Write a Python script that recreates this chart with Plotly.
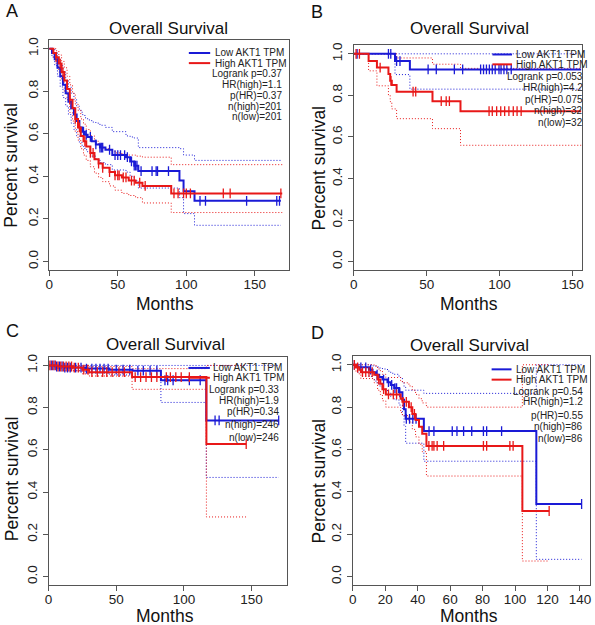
import numpy as np
import plotly.graph_objects as go

# -----------------------------
# DATA  (Kaplan-Meier steps)
# -----------------------------
group_names = ["Low AKT1 TPM", "High AKT1 TPM"]

# Panel A
a_low_t = [0, 2, 4, 6, 8, 10, 12, 14, 16, 18, 20, 22, 24, 26, 28, 31, 34, 37, 41, 46, 56, 59, 62, 65, 95, 98, 106, 169]
a_low_s = [1.0, 0.98, 0.95, 0.91, 0.87, 0.83, 0.79, 0.75, 0.72, 0.69, 0.66, 0.63, 0.61, 0.595, 0.585, 0.565, 0.55, 0.535, 0.525, 0.50, 0.49, 0.47, 0.45, 0.425, 0.38, 0.33, 0.285, 0.285]
a_low_hi = [1.0, 1.0, 0.98, 0.95, 0.92, 0.89, 0.85, 0.82, 0.79, 0.76, 0.73, 0.71, 0.69, 0.675, 0.665, 0.655, 0.65, 0.64, 0.63, 0.61, 0.59, 0.585, 0.58, 0.535, 0.53, 0.50, 0.475, 0.475]
a_low_lo = [1.0, 0.96, 0.92, 0.87, 0.82, 0.77, 0.73, 0.69, 0.65, 0.62, 0.59, 0.56, 0.54, 0.525, 0.515, 0.495, 0.48, 0.465, 0.455, 0.43, 0.42, 0.40, 0.38, 0.345, 0.30, 0.225, 0.17, 0.17]
a_low_cens = [25, 27, 30, 34, 37, 38, 39, 44, 48, 50, 52, 55, 57, 60, 62, 63, 64, 67, 75, 78, 79, 87, 110, 114, 144, 166, 168]

a_high_t = [0, 3, 5, 7, 9, 11, 13, 15, 17, 19, 21, 23, 25, 27, 30, 33, 36, 39, 44, 48, 53, 58, 63, 68, 89, 170]
a_high_s = [1.0, 0.98, 0.96, 0.93, 0.89, 0.85, 0.81, 0.76, 0.72, 0.67, 0.63, 0.59, 0.565, 0.54, 0.51, 0.48, 0.46, 0.44, 0.42, 0.405, 0.395, 0.38, 0.37, 0.355, 0.32, 0.32]
a_high_hi = [1.0, 1.0, 0.99, 0.97, 0.94, 0.91, 0.87, 0.83, 0.79, 0.74, 0.71, 0.67, 0.645, 0.62, 0.59, 0.565, 0.545, 0.53, 0.52, 0.51, 0.505, 0.50, 0.495, 0.49, 0.455, 0.455]
a_high_lo = [1.0, 0.96, 0.93, 0.89, 0.85, 0.80, 0.76, 0.70, 0.66, 0.61, 0.57, 0.53, 0.50, 0.475, 0.445, 0.415, 0.395, 0.375, 0.355, 0.335, 0.32, 0.31, 0.30, 0.275, 0.23, 0.23]
a_high_cens = [5, 8, 10, 15, 19, 22, 26, 30, 32, 36, 39, 44, 48, 50, 51, 54, 56, 60, 62, 66, 70, 91, 94, 98, 100, 103, 127, 132, 169]
a_stats = ["Logrank p=0.37", "HR(high)=1.1", "p(HR)=0.37", "n(high)=201", "n(low)=201"]

# Panel B
b_low_t = [0, 28.3, 38.5, 156]
b_low_s = [1.0, 0.965, 0.925, 0.925]
b_low_hi = [1.0, 1.0, 1.0, 1.0]
b_low_lo = [1.0, 0.90, 0.83, 0.83]
b_low_cens = [2.3, 23.8, 25.4, 29.4, 31.7, 51, 56.6, 69, 74.7, 87, 89, 91, 93, 95, 97, 99.6, 101, 103, 105, 108]

b_high_t = [0, 10.2, 15.9, 23.8, 25, 26.1, 29.4, 54, 73.2, 156]
b_high_s = [1.0, 0.965, 0.934, 0.903, 0.87, 0.85, 0.818, 0.772, 0.724, 0.724]
b_high_hi = [1.0, 1.0, 1.0, 1.0, 1.0, 1.0, 0.98, 0.95, 0.93, 0.93]
b_high_lo = [1.0, 0.918, 0.846, 0.80, 0.77, 0.735, 0.688, 0.64, 0.56, 0.56]
b_high_cens = [1.6, 3.9, 18.1, 25.5, 40.7, 42.5, 60, 63.4, 65.6, 92.8, 95, 98, 100.8, 103.5, 106.4, 109.4, 112, 114.8]
b_stats = ["Logrank p=0.053", "HR(high)=4.2", "p(HR)=0.075", "n(high)=32", "n(low)=32"]

# Panel C
c_low_t = [0, 5, 12, 27, 45, 62, 83, 116.5, 170]
c_low_s = [1.0, 0.995, 0.99, 0.985, 0.98, 0.975, 0.93, 0.74, 0.74]
c_low_hi = [1.0, 1.0, 1.0, 1.0, 1.0, 1.0, 1.0, 1.0, 1.0]
c_low_lo = [1.0, 0.985, 0.975, 0.965, 0.955, 0.945, 0.825, 0.47, 0.47]
c_low_cens = [2, 4, 6, 8, 10, 12, 14, 16, 20, 24, 28, 32, 35, 38, 41, 44, 50, 55, 60, 66, 70, 75, 80, 86, 88, 92, 104, 112, 123, 126, 170]

c_high_t = [0, 7, 18, 25, 30, 61.7, 116.6, 146]
c_high_s = [1.0, 0.995, 0.99, 0.98, 0.968, 0.945, 0.628, 0.628]
c_high_hi = [1.0, 1.0, 1.0, 1.0, 0.995, 0.985, 1.0, 1.0]
c_high_lo = [1.0, 0.985, 0.975, 0.96, 0.95, 0.887, 0.283, 0.283]
c_high_cens = [1, 3, 5, 7, 9, 11, 13, 15, 17, 19, 22, 26, 29, 32, 36, 40, 43, 47, 52, 56, 64, 68, 72, 76, 80, 87, 90, 94, 98, 104, 146]
c_stats = ["Logrank p=0.33", "HR(high)=1.9", "p(HR)=0.34", "n(high)=246", "n(low)=246"]

# Panel D
d_low_t = [0, 3, 10, 12.2, 14.3, 16.3, 18.3, 21.4, 23.4, 25.5, 28.5, 30.6, 31.6, 32.6, 43.8, 113.1, 141]
d_low_s = [1.0, 0.988, 0.977, 0.965, 0.953, 0.942, 0.93, 0.918, 0.905, 0.89, 0.87, 0.835, 0.79, 0.745, 0.687, 0.343, 0.343]
d_low_hi = [1.0, 1.0, 1.0, 0.995, 0.99, 0.985, 0.98, 0.97, 0.96, 0.955, 0.94, 0.92, 0.895, 0.88, 0.865, 1.0, 1.0]
d_low_lo = [1.0, 0.965, 0.945, 0.93, 0.915, 0.90, 0.885, 0.87, 0.85, 0.835, 0.81, 0.765, 0.71, 0.63, 0.545, 0.082, 0.082]
d_low_cens = [1, 5, 8, 11, 15, 19, 22, 24, 26, 27, 29, 33, 35, 37, 39, 47, 50, 61.3, 64.2, 68.3, 73.3, 80.5, 82.5, 91.7, 141]

d_high_t = [0, 2, 4, 5, 13.2, 15.3, 17, 18.3, 20.4, 29.5, 30.6, 34.6, 36.7, 38.7, 40.8, 42.8, 45.4, 104.5, 121]
d_high_s = [1.0, 0.988, 0.977, 0.965, 0.953, 0.93, 0.91, 0.885, 0.86, 0.84, 0.825, 0.80, 0.768, 0.74, 0.708, 0.675, 0.617, 0.31, 0.31]
d_high_hi = [1.0, 1.0, 1.0, 1.0, 0.995, 0.98, 0.97, 0.955, 0.94, 0.925, 0.915, 0.90, 0.88, 0.86, 0.84, 0.82, 0.80, 1.0, 1.0]
d_high_lo = [1.0, 0.965, 0.955, 0.935, 0.915, 0.88, 0.86, 0.83, 0.80, 0.775, 0.76, 0.73, 0.695, 0.66, 0.625, 0.59, 0.475, 0.074, 0.074]
d_high_cens = [1, 3, 6, 8, 10, 12, 16, 19, 22, 25, 27, 31, 33, 36, 38, 46.9, 48.9, 50, 52, 56, 80.5, 82.5, 96.8, 98.8, 121]
d_stats = ["Logrank p=0.54", "HR(high)=1.2", "p(HR)=0.55", "n(high)=86", "n(low)=86"]

# -----------------------------
# STYLE / LAYOUT SETTINGS
# -----------------------------
W, H = 595, 625
FONT = "Liberation Sans, Arial, sans-serif"
BLUE = "#1a1ad6"
RED = "#e81818"
FRAME = "#555555"
TXT = "#111111"


def px_x(v):
    return v / W


def px_y(v):
    return 1 - v / H


panels = [
    dict(letter="A", low=(a_low_t, a_low_s, a_low_hi, a_low_lo, a_low_cens),
         high=(a_high_t, a_high_s, a_high_hi, a_high_lo, a_high_cens), stats=a_stats,
         box=(45.7, 288, 37.3, 268.3), xmax=175, xdtick=50,
         letter_xy=(8.5, 8), title_xy=(166, 26), xlab_xy=(163, 302), ylab_xy=(7.5, 163),
         leg_line=(0.582, 0.671), leg_text=0.681, leg_right=0.978,
         leg_y=[0.944, 0.900, 0.853, 0.805, 0.759, 0.713, 0.667]),
    dict(letter="B", low=(b_low_t, b_low_s, b_low_hi, b_low_lo, b_low_cens),
         high=(b_high_t, b_high_s, b_high_hi, b_high_lo, b_high_cens), stats=b_stats,
         box=(353.3, 583.7, 42.7, 268.3), xmax=156.4, xdtick=50,
         letter_xy=(316, 9), title_xy=(470, 26), xlab_xy=(470, 302), ylab_xy=(318.5, 166),
         leg_line=(0.608, 0.694), leg_text=0.702, leg_right=1.016,
         leg_y=[0.960, 0.916, 0.864, 0.812, 0.761, 0.709, 0.657]),
    dict(letter="C", low=(c_low_t, c_low_s, c_low_hi, c_low_lo, c_low_cens),
         high=(c_high_t, c_high_s, c_high_hi, c_high_lo, c_high_cens), stats=c_stats,
         box=(45, 285.7, 355.7, 585), xmax=176, xdtick=50,
         letter_xy=(9, 330), title_xy=(163, 343), xlab_xy=(163, 615.5), ylab_xy=(7.5, 478),
         leg_line=(0.587, 0.677), leg_text=0.683, leg_right=0.976,
         leg_y=[0.952, 0.909, 0.858, 0.810, 0.759, 0.705, 0.647]),
    dict(letter="D", low=(d_low_t, d_low_s, d_low_hi, d_low_lo, d_low_cens),
         high=(d_high_t, d_high_s, d_high_hi, d_high_lo, d_high_cens), stats=d_stats,
         box=(352.3, 591.7, 355, 585), xmax=146, xdtick=20,
         letter_xy=(316.5, 331.5), title_xy=(470.5, 344), xlab_xy=(470, 615.5), ylab_xy=(318, 480),
         leg_line=(0.586, 0.670), leg_text=0.680, leg_right=0.982,
         leg_y=[0.943, 0.898, 0.848, 0.801, 0.742, 0.693, 0.643]),
]

fig = go.Figure()
shapes = []
annotations = []


def label(text, xy, size, angle=0):
    return dict(text=text, xref="paper", yref="paper", x=px_x(xy[0]), y=px_y(xy[1]),
                xanchor="center", yanchor="middle", textangle=angle, showarrow=False,
                font=dict(family=FONT, size=size, color=TXT))


for i, p in enumerate(panels, start=1):
    sfx = "" if i == 1 else str(i)
    xa, ya = "x" + sfx, "y" + sfx

    # curves: dotted confidence bands, solid KM step, censor ticks
    for grp, color in ((p["low"], BLUE), (p["high"], RED)):
        t, s, hi, lo, cens = grp
        for band in (hi, lo):
            fig.add_trace(go.Scatter(x=t, y=band, mode="lines", line_shape="hv",
                                     line=dict(color=color, width=1, dash="1px,2px"),
                                     xaxis=xa, yaxis=ya, showlegend=False, hoverinfo="skip"))
    for grp, color in ((p["low"], BLUE), (p["high"], RED)):
        t, s, hi, lo, cens = grp
        fig.add_trace(go.Scatter(x=t, y=s, mode="lines", line_shape="hv",
                                 line=dict(color=color, width=2),
                                 xaxis=xa, yaxis=ya, showlegend=False))
        idx = np.searchsorted(np.array(t), np.array(cens), side="right") - 1
        fig.add_trace(go.Scatter(x=cens, y=np.array(s)[idx], mode="markers",
                                 marker=dict(symbol="line-ns", size=7,
                                             line=dict(color=color, width=1.3)),
                                 xaxis=xa, yaxis=ya, showlegend=False))

    x0, x1, y0, y1 = p["box"]
    axis_common = dict(showline=True, mirror=True, linecolor=FRAME, linewidth=1,
                       ticks="outside", ticklen=5, tickcolor=FRAME, showgrid=False,
                       zeroline=False, tickfont=dict(family=FONT, size=13.5, color="#222222"))
    fig.layout["xaxis" + sfx] = dict(domain=[px_x(x0), px_x(x1)], range=[0, p["xmax"]],
                                     dtick=p["xdtick"], tick0=0, anchor=ya,
                                     ticklabelstandoff=-3, **axis_common)
    fig.layout["yaxis" + sfx] = dict(domain=[px_y(y1), px_y(y0)], range=[-0.04, 1.04],
                                     dtick=0.2, tick0=0, tickformat=".1f", tickangle=-90,
                                     anchor=xa, **axis_common)

    # texts
    annotations.append(label(p["letter"], p["letter_xy"], 18))
    annotations.append(label("Overall Survival", p["title_xy"], 17))
    annotations.append(label("Months", p["xlab_xy"], 17.5))
    annotations.append(label("Percent survival", p["ylab_xy"], 17.5, angle=-90))

    # legend block inside plot
    for k, (name, color) in enumerate(zip(group_names, (BLUE, RED))):
        yk = p["leg_y"][k]
        shapes.append(dict(type="line", xref=xa + " domain", yref=ya + " domain",
                           x0=p["leg_line"][0], x1=p["leg_line"][1], y0=yk, y1=yk,
                           line=dict(color=color, width=2)))
        annotations.append(dict(text=name, xref=xa + " domain", yref=ya + " domain",
                                x=p["leg_text"], y=yk, xanchor="left", yanchor="middle",
                                showarrow=False, font=dict(family=FONT, size=10, color="#222222")))
    for k, line in enumerate(p["stats"]):
        annotations.append(dict(text=line, xref=xa + " domain", yref=ya + " domain",
                                x=p["leg_right"], y=p["leg_y"][k + 2], xanchor="right",
                                yanchor="middle", showarrow=False,
                                font=dict(family=FONT, size=10, color="#222222")))

fig.update_layout(
    width=W, height=H,
    margin=dict(l=0, r=0, t=0, b=0),
    paper_bgcolor="white", plot_bgcolor="white",
    font=dict(family=FONT),
    shapes=shapes, annotations=annotations,
    showlegend=False,
)

fig.write_html("out.html", config={"displayModeBar": False},
               post_script="document.body.style.margin='0px';")
